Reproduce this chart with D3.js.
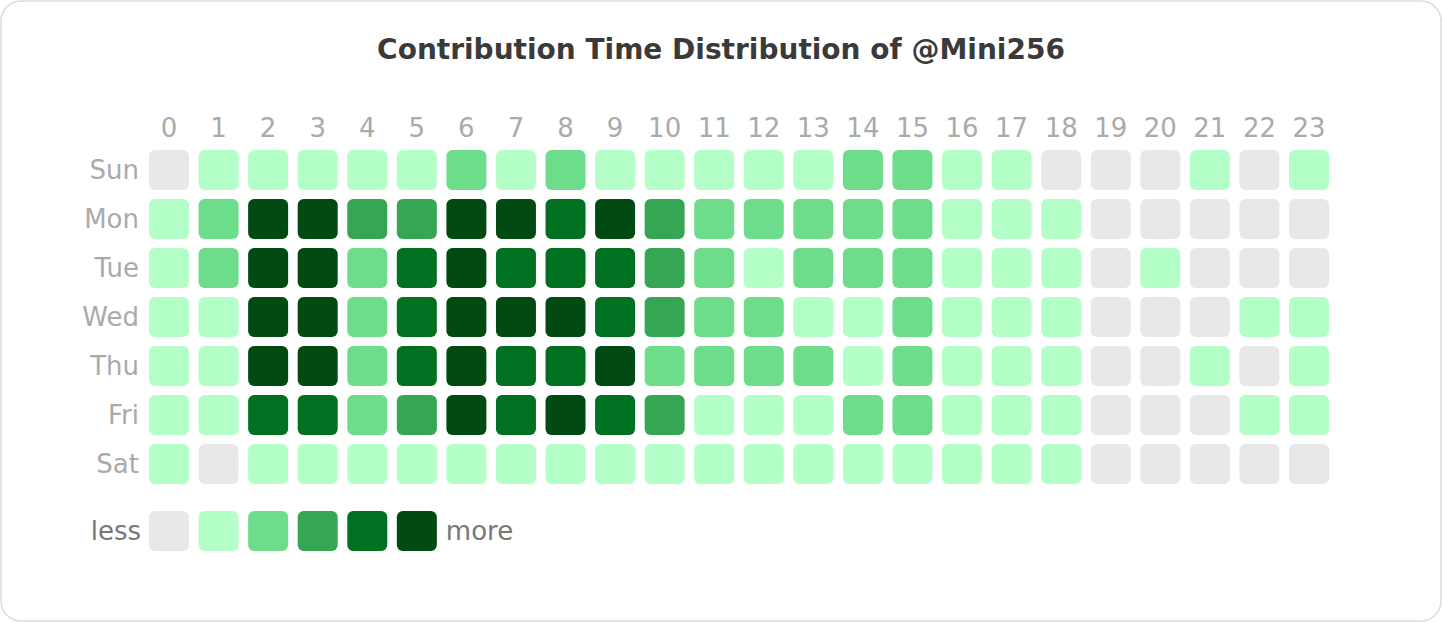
<!DOCTYPE html>
<html>
<head>
<meta charset="utf-8">
<script src="https://cdn.jsdelivr.net/npm/d3@7"></script>
<style>
  body { margin: 0; background: #fff; }
  svg { display: block; font-family: "DejaVu Sans", sans-serif; }
</style>
</head>
<body>
<svg id="chart"></svg>
<script>
// hours across, weekdays down; each value is an activity level 0..5
const hours = d3.range(24);
const days = ["Sun", "Mon", "Tue", "Wed", "Thu", "Fri", "Sat"];
const levelColors = ["#e8e8e8", "#b4fec8", "#6ddd8b", "#35a653", "#007121", "#014a11"];

const sun = [0, 1, 1, 1, 1, 1, 2, 1, 2, 1, 1, 1, 1, 1, 2, 2, 1, 1, 0, 0, 0, 1, 0, 1];
const mon = [1, 2, 5, 5, 3, 3, 5, 5, 4, 5, 3, 2, 2, 2, 2, 2, 1, 1, 1, 0, 0, 0, 0, 0];
const tue = [1, 2, 5, 5, 2, 4, 5, 4, 4, 4, 3, 2, 1, 2, 2, 2, 1, 1, 1, 0, 1, 0, 0, 0];
const wed = [1, 1, 5, 5, 2, 4, 5, 5, 5, 4, 3, 2, 2, 1, 1, 2, 1, 1, 1, 0, 0, 0, 1, 1];
const thu = [1, 1, 5, 5, 2, 4, 5, 4, 4, 5, 2, 2, 2, 2, 1, 2, 1, 1, 1, 0, 0, 1, 0, 1];
const fri = [1, 1, 4, 4, 2, 3, 5, 4, 5, 4, 3, 1, 1, 1, 2, 2, 1, 1, 1, 0, 0, 0, 1, 1];
const sat = [1, 0, 1, 1, 1, 1, 1, 1, 1, 1, 1, 1, 1, 1, 1, 1, 1, 1, 1, 0, 0, 0, 0, 0];

const levels = [sun, mon, tue, wed, thu, fri, sat];

const cells = [];
levels.forEach((row, di) => {
	row.forEach((v, h) => cells.push({ day: days[di], hour: h, level: v }));
});

const width = 1442;
const height = 622;

const svg = d3.select("#chart")
	.attr("width", width)
	.attr("height", height);

svg.append("rect")
	.attr("x", 1)
	.attr("y", 1)
	.attr("width", width - 2)
	.attr("height", height - 2)
	.attr("rx", 20)
	.attr("fill", "#fff")
	.attr("stroke", "#dcdcdc")
	.attr("stroke-width", 1.5);

svg.append("text")
	.attr("x", 721)
	.attr("y", 59)
	.attr("text-anchor", "middle")
	.attr("font-size", "28px")
	.attr("font-weight", "bold")
	.attr("fill", "#3a3a3a")
	.text("Contribution Time Distribution of @Mini256");

const x = d3.scaleBand()
	.domain(hours)
	.range([149, 1329])
	.paddingInner(0.193);

const y = d3.scaleBand()
	.domain(days)
	.range([150, 484])
	.paddingInner(0.1837);

const color = d3.scaleOrdinal()
	.domain(d3.range(levelColors.length))
	.range(levelColors);

// hour labels on top
svg.append("g")
	.selectAll("text")
	.data(hours)
	.join("text")
	.attr("x", d => x(d) + x.bandwidth() / 2)
	.attr("y", 137)
	.attr("text-anchor", "middle")
	.attr("font-size", "26px")
	.attr("fill", "#aaaaaa")
	.text(d => d);

// weekday labels
svg.append("g")
	.selectAll("text")
	.data(days)
	.join("text")
	.attr("x", 139)
	.attr("y", d => y(d) + y.bandwidth() / 2)
	.attr("dy", "0.33em")
	.attr("text-anchor", "end")
	.attr("font-size", "26px")
	.attr("fill", "#aaaaaa")
	.text(d => d);

svg.append("g")
	.selectAll("rect")
	.data(cells)
	.join("rect")
	.attr("x", d => x(d.hour))
	.attr("y", d => y(d.day))
	.attr("width", x.bandwidth())
	.attr("height", y.bandwidth())
	.attr("rx", 6)
	.attr("fill", d => color(d.level));

// legend: less ... more
const legendY = 511;
const legend = svg.append("g");

legend.selectAll("rect")
	.data(d3.range(levelColors.length))
	.join("rect")
	.attr("x", d => x(d))
	.attr("y", legendY)
	.attr("width", x.bandwidth())
	.attr("height", y.bandwidth())
	.attr("rx", 6)
	.attr("fill", d => color(d));

legend.append("text")
	.attr("x", 141)
	.attr("y", legendY + y.bandwidth() / 2)
	.attr("dy", "0.33em")
	.attr("text-anchor", "end")
	.attr("font-size", "26px")
	.attr("fill", "#777777")
	.text("less");

legend.append("text")
	.attr("x", x(levelColors.length - 1) + x.bandwidth() + 9)
	.attr("y", legendY + y.bandwidth() / 2)
	.attr("dy", "0.33em")
	.attr("font-size", "26px")
	.attr("fill", "#777777")
	.text("more");
</script>
</body>
</html>
